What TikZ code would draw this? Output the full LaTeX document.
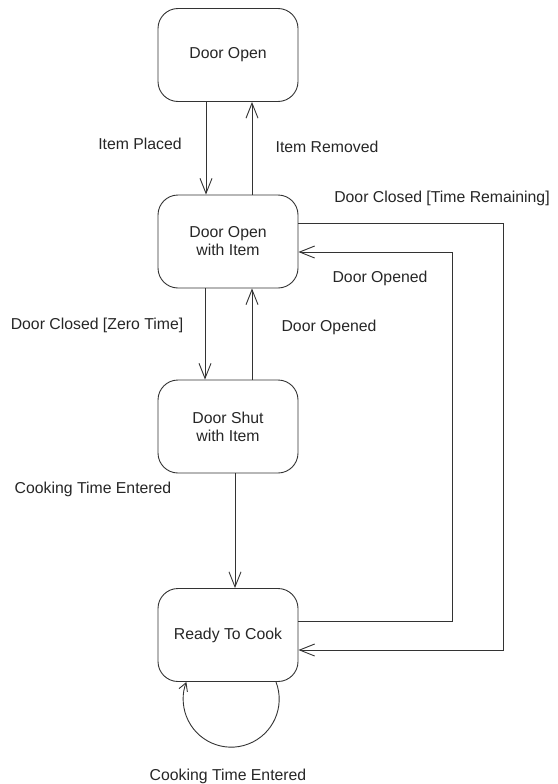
\documentclass[tikz,border=0pt]{standalone}
\usepackage{fontspec}
\setmainfont{Liberation Sans}
\usetikzlibrary{arrows.meta}

\begin{document}
\begin{tikzpicture}[x=1pt, y=-1pt, line width=0.9pt, draw=black!80,
	every node/.style={font=\fontsize{15.8}{18}\selectfont, text=black!85},
	state/.style={draw=black!80, rounded corners=20pt, minimum width=140pt, minimum height=93pt, align=center, inner sep=0pt},
	trans/.style={-{Straight Barb[length=15pt, width=12pt, line width=0.9pt]}},
	loopend/.style={-{Straight Barb[length=8pt, width=9pt, line width=0.9pt]}}]
	\useasboundingbox (0,0) rectangle (557,784);
	\node[state] (open) at (228,55) {Door Open};
	\node[state] (withitem) at (228,241.5) {Door Open\\with Item};
	\node[state] (shut) at (228,426.5) {Door Shut\\with Item};
	\node[state] (ready) at (228,635) {Ready To Cook};
	\draw[trans] ([xshift=-22pt]open.south) -- ([xshift=-22pt]withitem.north);
	\draw[trans] ([xshift=24pt]withitem.north) -- ([xshift=24pt]open.south);
	\draw[trans] ([xshift=-23pt]withitem.south) -- ([xshift=-23pt]shut.north);
	\draw[trans] ([xshift=24pt]shut.north) -- ([xshift=24pt]withitem.south);
	\draw[trans] ([xshift=7pt]shut.south) -- ([xshift=7pt]ready.north);
	\draw[trans] ([yshift=18.5pt]withitem.east) -- ++(205,0) |- ([yshift=-15pt]ready.east);
	\draw[trans] ([yshift=14pt]ready.east) -- ++(154,0) |- ([yshift=-10.5pt]withitem.east);
	\draw[loopend] ([xshift=48pt]ready.south) arc[start angle=21, end angle=-201, radius=48pt];
	\node (placed) at (140,144) {Item Placed};
	\node (removed) at (327,147) {Item Removed};
	\node (remain) at (442,198) {Door Closed [Time Remaining]};
	\node (opened1) at (380,278) {Door Opened};
	\node (zero) at (97,325) {Door Closed [Zero Time]};
	\node (opened2) at (329,327) {Door Opened};
	\node (entered1) at (93,489) {Cooking Time Entered};
	\node (entered2) at (228,776) {Cooking Time Entered};
\end{tikzpicture}
\end{document}
